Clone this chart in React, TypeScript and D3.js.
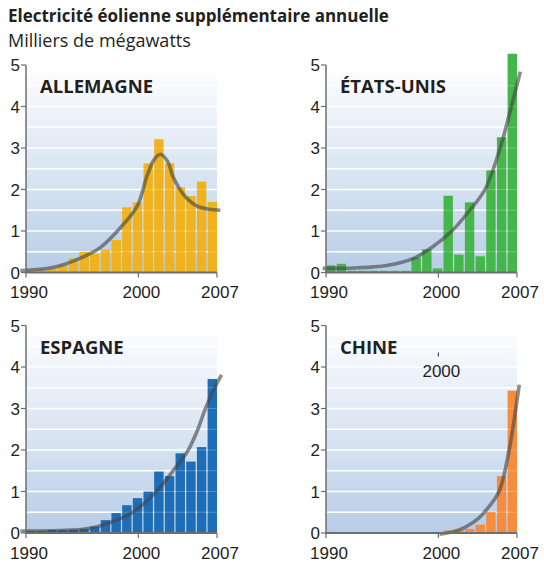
import React from "react";
import * as d3 from "d3";

const years = [1990, 1991, 1992, 1993, 1994, 1995, 1996, 1997, 1998, 1999, 2000, 2001, 2002, 2003, 2004, 2005, 2006, 2007];

const germany = [0.05, 0.06, 0.08, 0.17, 0.34, 0.5, 0.45, 0.55, 0.78, 1.57, 1.69, 2.63, 3.21, 2.63, 2.05, 1.84, 2.19, 1.7];
const usa = [0.17, 0.21, 0.04, 0.04, 0.04, 0.04, 0.04, 0.04, 0.36, 0.56, 0.1, 1.85, 0.43, 1.69, 0.39, 2.46, 3.26, 5.27];
const spain = [0.05, 0.05, 0.07, 0.07, 0.08, 0.1, 0.15, 0.31, 0.48, 0.67, 0.84, 1.0, 1.48, 1.37, 1.92, 1.72, 2.07, 3.71];
const china = [0, 0, 0, 0, 0, 0, 0, 0, 0, 0, 0, 0.06, 0.08, 0.1, 0.2, 0.51, 1.37, 3.43];

// trend curves: [year, value]
const germanyTrend: [number, number][] = [
  [1989.5, 0.05], [1992.4, 0.12], [1994.8, 0.34], [1996.6, 0.6], [1998.4, 1.08], [1999.9, 1.6],
  [2000.8, 2.35], [2001.4, 2.72], [2001.95, 2.85], [2002.6, 2.68], [2003.1, 2.3], [2004.2, 1.82],
  [2005.4, 1.58], [2007.3, 1.5],
];
const usaTrend: [number, number][] = [
  [1989.7, 0.1], [1992.5, 0.11], [1995.4, 0.17], [1997.8, 0.34], [1999.5, 0.62], [2001.2, 1.0],
  [2002.8, 1.5], [2004.15, 2.0], [2005.5, 3.0], [2006.5, 4.0], [2007.3, 4.84],
];
const spainTrend: [number, number][] = [
  [1989.5, 0.05], [1993, 0.06], [1995.4, 0.1], [1997.5, 0.25], [1999.5, 0.5], [2001.6, 1.0],
  [2003.1, 1.5], [2004.4, 1.98], [2005.3, 2.5], [2005.9, 2.95], [2006.8, 3.5], [2007.4, 3.81],
];
const chinaTrend: [number, number][] = [
  [2000.1, -0.03], [2001.9, 0.08], [2003.6, 0.36], [2004.4, 0.6], [2005.4, 1.0], [2006.3, 2.0],
  [2006.9, 3.0], [2007.2, 3.57],
];

const yTicks = [0, 1, 2, 3, 4, 5];
const gridValues = [0.5, 1, 1.5, 2, 2.5, 3, 3.5, 4, 4.5];
const xTicks = [1990, 2000, 2007];

const title = "Electricité éolienne supplémentaire annuelle";
const subtitle = "Milliers de mégawatts";

const panels = [
  { name: "ALLEMAGNE", values: germany, trend: germanyTrend, color: "#f0b21d", x0: 26, y0: 272.5 },
  { name: "ÉTATS-UNIS", values: usa, trend: usaTrend, color: "#45b649", x0: 326, y0: 272.5 },
  { name: "ESPAGNE", values: spain, trend: spainTrend, color: "#1e6db7", x0: 26, y0: 533 },
  { name: "CHINE", values: china, trend: chinaTrend, color: "#f68c3e", x0: 326, y0: 533 },
];

const FONT = "'Open Sans', 'Noto Sans', sans-serif";
const TICKFONT = "'Liberation Sans', Arial, sans-serif";
const TEXT = "#231f20";
const AXIS = "#6d6e70";

function Panel({ p, idx }: { p: any; idx: number }) {
  const w = 191;
  const h = 207.5;
  const x = d3.scaleLinear().domain([1990, 2007]).range([p.x0, p.x0 + w]);
  const band = d3.scaleBand<number>().domain(years).range([p.x0, p.x0 + w]).paddingInner(0.12).paddingOuter(0);
  const y = d3.scaleLinear().domain([0, 5]).range([p.y0, p.y0 - h]);
  const line = d3
    .line<[number, number]>()
    .x((d) => x(d[0]))
    .y((d) => y(d[1]))
    .curve(d3.curveCatmullRom.alpha(0.5));
  const gid = `bg${idx}`;
  return (
    <g>
      <defs>
        <linearGradient id={gid} x1="0" y1="0" x2="0" y2="1">
          <stop offset="0" stopColor="#fbfcfe" />
          <stop offset="1" stopColor="#b7cde7" />
        </linearGradient>
      </defs>
      <rect x={p.x0} y={y(4.78)} width={w} height={y(0) - y(4.78)} fill={`url(#${gid})`} />
      {gridValues.map((v) => (
        <line key={v} x1={p.x0} x2={p.x0 + w} y1={y(v)} y2={y(v)} stroke="#ffffff" strokeWidth={1.4} />
      ))}
      {years.map((yr, i) =>
        p.values[i] > 0 ? (
          <rect
            key={yr}
            x={band(yr)}
            y={y(p.values[i])}
            width={band.bandwidth()}
            height={y(0) - y(p.values[i])}
            fill={p.color}
          />
        ) : null
      )}
      {gridValues.map((v) => (
        <line key={`o${v}`} x1={p.x0} x2={p.x0 + w} y1={y(v)} y2={y(v)} stroke="#ffffff" strokeOpacity={0.22} strokeWidth={1.2} />
      ))}
      <path d={line(p.trend) || ""} fill="none" stroke="rgb(70,70,70)" strokeOpacity={0.62} strokeWidth={3.6} strokeLinecap="butt" />
      {/* y axis */}
      <line x1={p.x0} x2={p.x0} y1={y(0)} y2={y(5)} stroke={AXIS} strokeWidth={1.5} />
      {yTicks.map((t) => (
        <g key={t}>
          <line x1={p.x0 - 5} x2={p.x0} y1={y(t)} y2={y(t)} stroke={AXIS} strokeWidth={1.2} />
          <text x={p.x0 - 6} y={y(t)} dy="0.36em" textAnchor="end" fontSize={17} fill={TEXT} fontFamily={TICKFONT}>
            {t}
          </text>
        </g>
      ))}
      {/* x axis */}
      <line x1={p.x0 - 1} x2={p.x0 + w} y1={y(0)} y2={y(0)} stroke={AXIS} strokeWidth={1.8} />
      {xTicks.map((t) => (
        <g key={t}>
          <line x1={x(t)} x2={x(t)} y1={y(0)} y2={y(0) + 5} stroke={AXIS} strokeWidth={1.2} />
          <text x={x(t) + 3} y={y(0) + 25.5} textAnchor="middle" fontSize={17} fill={TEXT} fontFamily={TICKFONT}>
            {t}
          </text>
        </g>
      ))}
      <text x={p.x0 + 14} y={p.y0 - 179.5} fontSize={18.5} fontWeight="bold" fill={TEXT} fontFamily={FONT}>
        {p.name}
      </text>
      {p.name === "CHINE" ? (
        <g>
          <line x1={x(2000)} x2={x(2000)} y1={p.y0 - 180.5} y2={p.y0 - 176.5} stroke={TEXT} strokeWidth={1} />
          <text x={x(2000) + 3} y={p.y0 - 155.7} textAnchor="middle" fontSize={17} fill={TEXT} fontFamily={TICKFONT}>
            2000
          </text>
        </g>
      ) : null}
    </g>
  );
}

export default function App() {
  return (
    <svg width={544} height={565} style={{ position: "absolute", left: 0, top: 0, background: "#fff" }}>
      <rect x={0} y={0} width={544} height={565} fill="#ffffff" />
      <text x={8} y={22} fontSize={17} fontWeight="bold" fill={TEXT} fontFamily={FONT}>
        {title}
      </text>
      <text x={8} y={47} fontSize={18} fill={TEXT} fontFamily={FONT}>
        {subtitle}
      </text>
      {panels.map((p, i) => (
        <Panel key={p.name} p={p} idx={i} />
      ))}
    </svg>
  );
}
